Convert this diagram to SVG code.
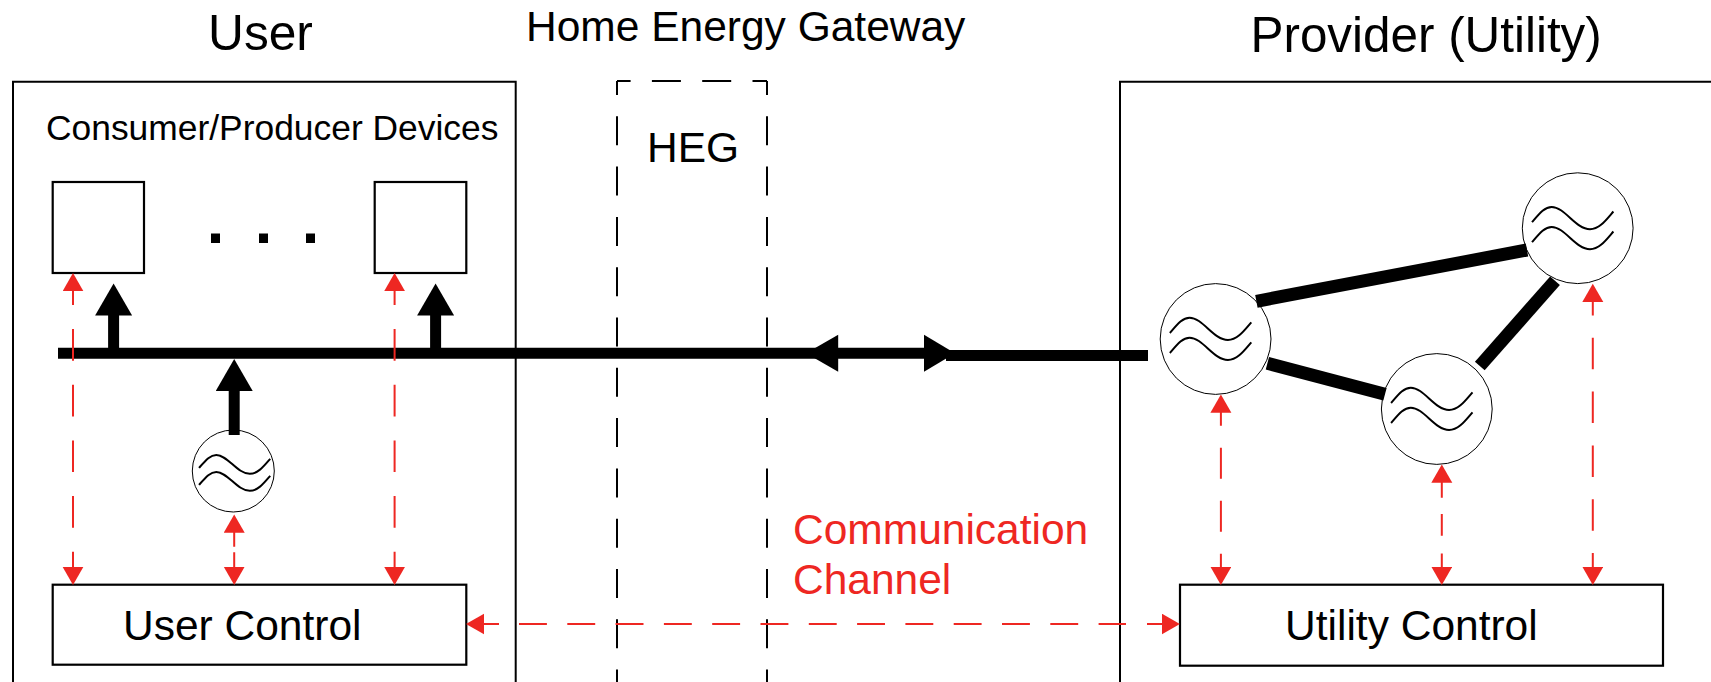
<svg xmlns="http://www.w3.org/2000/svg" width="1711" height="682" viewBox="0 0 1711 682">
<style>
text{font-family:"Liberation Sans",Arial,sans-serif;fill:#000}
.t50{font-size:49.7px}.t49{font-size:49.4px}.t42{font-size:42.5px}.t35{font-size:35.4px}
.red{fill:#ee2722}
.box{fill:#fff;stroke:#000;stroke-width:2.2}
.area{fill:none;stroke:#000;stroke-width:2}
.heg{stroke:#000;stroke-width:2;fill:none;stroke-dasharray:29 21.3}
.gen{fill:#fff;stroke:#000;stroke-width:1}
.wave{fill:none;stroke:#000;stroke-width:2;vector-effect:non-scaling-stroke}
.pw{stroke:#000;stroke-width:11;fill:none}
.sl{stroke-width:13}
.up{marker-end:url(#bk)}
.cm{stroke:#ee2722;stroke-width:2;fill:none;marker-start:url(#rd);marker-end:url(#rd)}
.ch{stroke:#ee2722;stroke-width:2;fill:none}
</style>
<defs>
<marker id="bk" markerUnits="userSpaceOnUse" markerWidth="34" markerHeight="38" refX="1" refY="18.5" orient="auto"><path d="M0,0L32,18.5L0,37Z" fill="#000"/></marker>
<marker id="rd" markerUnits="userSpaceOnUse" markerWidth="19" markerHeight="22" refX="15" refY="10.5" orient="auto-start-reverse"><path d="M0,0L18.3,10.5L0,21Z" fill="#ee2722"/></marker>
<g id="waves"><path class="wave" d="M-45.7,-6C-38,-15-33,-21.3-26,-21.3C-13,-21.3-2,1,12.3,1C22,1,29,-9,35.7,-16.7"/><path class="wave" d="M-45.7,14C-38,5-33,-1.3-26,-1.3C-13,-1.3-2,21,12.3,21C22,21,29,11,35.7,3.3"/></g>
</defs>
<rect width="1711" height="682" fill="#fff"/>
<g id="user-area"><path class="area" d="M13,682V81.7H515.7V682"/><text class="t50" x="208" y="49.5">User</text></g>
<g id="heg-area">
<path class="heg" stroke-dashoffset="15.4" d="M617,81H767"/>
<path class="heg" stroke-dashoffset="15" d="M617,81V682"/>
<path class="heg" stroke-dashoffset="15" d="M767,81V682"/>
<text class="t42" x="526" y="41">Home Energy Gateway</text>
<text class="t42" x="647" y="162">HEG</text>
</g>
<g id="provider-area"><path class="area" d="M1120,682V81.7H1711"/><text class="t49" x="1250.5" y="52">Provider (Utility)</text></g>
<text class="t35" x="46" y="139.5">Consumer/Producer Devices</text>
<g id="device-1"><rect class="box" x="52.7" y="182" width="91.3" height="91"/></g>
<g id="device-n"><rect class="box" x="374.7" y="182" width="91.6" height="91"/></g>
<g id="dots"><rect x="211" y="233.5" width="9" height="9.5"/><rect x="259" y="233.5" width="9" height="9.5"/><rect x="306" y="233.5" width="9" height="9.5"/></g>
<g id="user-gen"><circle class="gen" cx="233.3" cy="471" r="41"/><use href="#waves" transform="translate(239,473) scale(.875,.85)"/></g>
<g id="gen-1"><circle class="gen" cx="1215.6" cy="339" r="55.4"/><use href="#waves" transform="translate(1215.6,339)"/></g>
<g id="gen-2"><circle class="gen" cx="1436.8" cy="409" r="55.4"/><use href="#waves" transform="translate(1436.8,409)"/></g>
<g id="gen-3"><circle class="gen" cx="1577.7" cy="228.2" r="55.4"/><use href="#waves" transform="translate(1577.7,228.2)"/></g>
<g id="user-control"><rect class="box" x="52.7" y="584.7" width="413.6" height="80"/><text class="t42" x="123" y="639.5">User Control</text></g>
<g id="utility-control"><rect class="box" x="1180" y="584.7" width="483" height="81"/><text class="t42" x="1285" y="640">Utility Control</text></g>
<g id="connectors">
<path class="pw" d="M58,353.3H930"/>
<path class="pw" d="M946,355.5H1148"/>
<path d="M806,353.2L838.2,334.7V371.7Z"/>
<path d="M955,353.2L924,334.7V371.7Z"/>
<path class="pw up" d="M113.6,353V314.5"/>
<path class="pw up" d="M435.6,353V314.5"/>
<path class="pw up" d="M234.2,435V390"/>
<path class="pw sl" d="M1256.4,301.3L1527,250"/>
<path class="pw sl" d="M1267.4,363.3L1385,394.3"/>
<path class="pw sl" d="M1479.8,366L1555,280.7"/>
<path class="cm" stroke-dasharray="31.7 24" stroke-dashoffset="3" d="M73,276.3V581.7"/>
<path class="cm" stroke-dasharray="31.7 24" stroke-dashoffset="3" d="M394.6,276.3V581.7"/>
<path class="cm" stroke-dasharray="29 5.5 40" d="M234.2,517.7V581.7"/>
<path class="cm" stroke-dasharray="28 22 31 22 31 22 40" d="M1220.9,397.7V581.7"/>
<path class="cm" stroke-dasharray="30 16.3 21.7 17.7 40" d="M1441.8,467.7V581.7"/>
<path class="cm" stroke-dasharray="28.5 22.3 31.5 22.3 31.5 22.3 31.5 22.3 31.5 22.3 40" d="M1592.8,287V581.7"/>
<path class="ch" marker-start="url(#rd)" d="M469.3,624H499"/>
<path class="ch" stroke-dasharray="27.9 20.4" d="M519,624H1126"/>
<path class="ch" marker-end="url(#rd)" d="M1147,624H1176.6"/>
</g>
<text class="t42 red" x="793" y="543.5">Communication</text>
<text class="t42 red" x="793" y="594">Channel</text>
</svg>
